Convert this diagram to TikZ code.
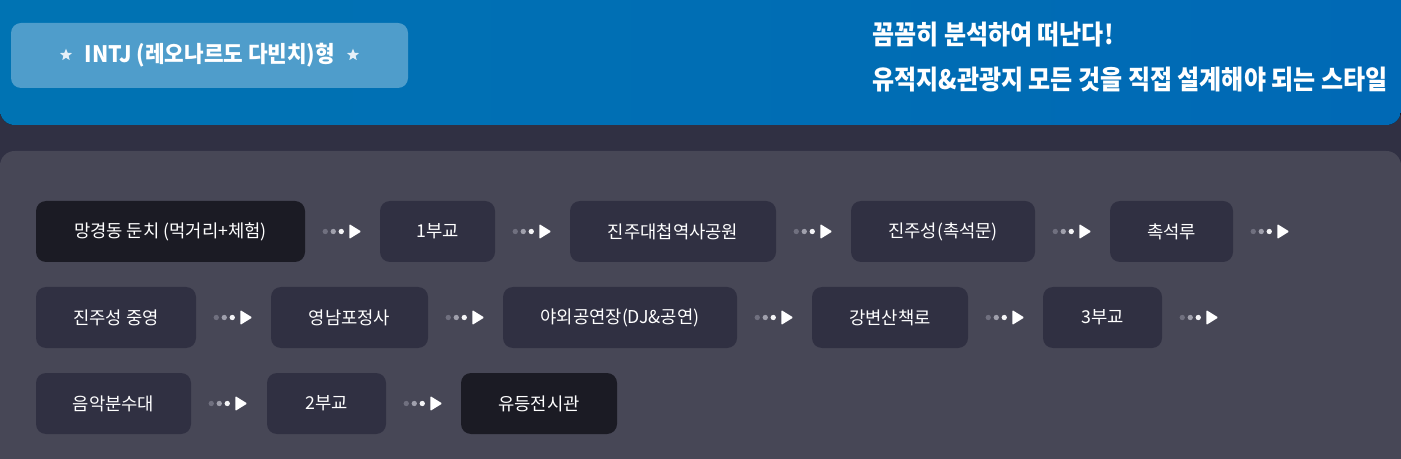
\documentclass[tikz,border=0pt]{standalone}
\usepackage{fontspec}
\usetikzlibrary{shapes.geometric,decorations.markings}
\newfontfamily\kr{Noto Sans CJK KR}
\definecolor{bgdark}{HTML}{303043}
\definecolor{panel}{HTML}{474756}
\definecolor{stopc}{HTML}{303042}
\definecolor{stopdark}{HTML}{1B1B24}
\definecolor{bannerL}{HTML}{0073B3}
\definecolor{bannerR}{HTML}{0069B5}
\definecolor{pillc}{HTML}{4F9DCB}
\definecolor{dotA}{HTML}{70707F}
\definecolor{dotB}{HTML}{A0A0AC}
\definecolor{dotC}{HTML}{F4F4F6}
\definecolor{starc}{HTML}{E6F0F8}
\begin{document}
\begin{tikzpicture}[x=0.75pt,y=-0.75pt,
  stopbox/.style={fill=stopc, rounded corners=7.5pt, minimum height=45.75pt,
    minimum width=#1*0.75pt, inner sep=0pt, text=white,
    font=\kr\fontsize{13.3}{15}\selectfont},
  darkbox/.style={stopbox=#1, fill=stopdark},
  pillbox/.style={fill=pillc, rounded corners=7.5pt, minimum width=297.75pt,
    minimum height=48.75pt, inner sep=0pt},
  starmark/.style={star, star points=5, star point ratio=2.3, fill=starc,
    minimum size=9.5pt, inner sep=0pt},
  headtext/.style={text=white, font=\kr\bfseries\fontsize{20}{22}\selectfont, inner sep=0pt, anchor=west},
  flow/.style={postaction={decorate}, decoration={markings,
    mark=at position 15pt with {\fill[dotA] (0,0) circle (2pt);},
    mark=at position 21pt with {\fill[dotB] (0,0) circle (2pt);},
    mark=at position 27pt with {\fill[dotC] (0,0) circle (2pt);},
    mark=at position 33pt with {\fill[white, rounded corners=0.8pt] (0pt,5.6pt) -- (9pt,0pt) -- (0pt,-5.6pt) -- cycle;}}}
]
\useasboundingbox (0,0) rectangle (1401,459);
\clip (0,0) rectangle (1401,459);
\fill[bgdark] (0,0) rectangle (1401,459);
% banner
\fill[left color=bannerL, right color=bannerR, rounded corners=11pt] (0,-30) rectangle (1401,125);
% lower panel
\fill[panel, rounded corners=11pt] (0,151) rectangle (1401,500);
% title pill
\node[pillbox] (pill) at (209.5,55.5) {};
\node[starmark] (starL) at (66,55) {};
\node[starmark] (starR) at (353,55) {};
\node[text=white, font=\kr\bfseries\fontsize{17}{19}\selectfont, inner sep=0pt] (title) at (210,55)
  {\scalebox{0.94}[1]{INTJ (레오나르도 다빈치)형}};
% header text
\node[headtext] (h1) at (872,35) {\scalebox{0.9}[1]{꼼꼼히 분석하여 떠난다!}};
\node[headtext] (h2) at (872,80) {\scalebox{0.9}[1]{유적지\&관광지 모든 것을 직접 설계해야 되는 스타일}};
% row 1
\node[darkbox=269] (n1) at (170.5,231.5) {망경동 둔치 (먹거리+체험)};
\node[stopbox=115] (n2) at (437.5,231.5) {1부교};
\node[stopbox=206] (n3) at (673,231.5) {진주대첩역사공원};
\node[stopbox=184] (n4) at (943,231.5) {진주성(촉석문)};
\node[stopbox=123] (n5) at (1171.5,231.5) {촉석루};
% row 2
\node[stopbox=160] (n6) at (116,317.5) {진주성 중영};
\node[stopbox=157] (n7) at (349.5,317.5) {영남포정사};
\node[stopbox=234] (n8) at (620,317.5) {야외공연장(DJ\&공연)};
\node[stopbox=156] (n9) at (890,317.5) {강변산책로};
\node[stopbox=119] (n10) at (1102.5,317.5) {3부교};
% row 3
\node[stopbox=155] (n11) at (113.5,403.5) {음악분수대};
\node[stopbox=119] (n12) at (326.5,403.5) {2부교};
\node[darkbox=156] (n13) at (539,403.5) {유등전시관};
% free ends
\path (n5.east) ++(75,0) coordinate (e5);
\path (n10.east) ++(75,0) coordinate (e10);
% connectors
\path[flow] (n1.east) -- (n2.west);
\path[flow] (n2.east) -- (n3.west);
\path[flow] (n3.east) -- (n4.west);
\path[flow] (n4.east) -- (n5.west);
\path[flow] (n5.east) -- (e5);
\path[flow] (n6.east) -- (n7.west);
\path[flow] (n7.east) -- (n8.west);
\path[flow] (n8.east) -- (n9.west);
\path[flow] (n9.east) -- (n10.west);
\path[flow] (n10.east) -- (e10);
\path[flow] (n11.east) -- (n12.west);
\path[flow] (n12.east) -- (n13.west);
\end{tikzpicture}
\end{document}
